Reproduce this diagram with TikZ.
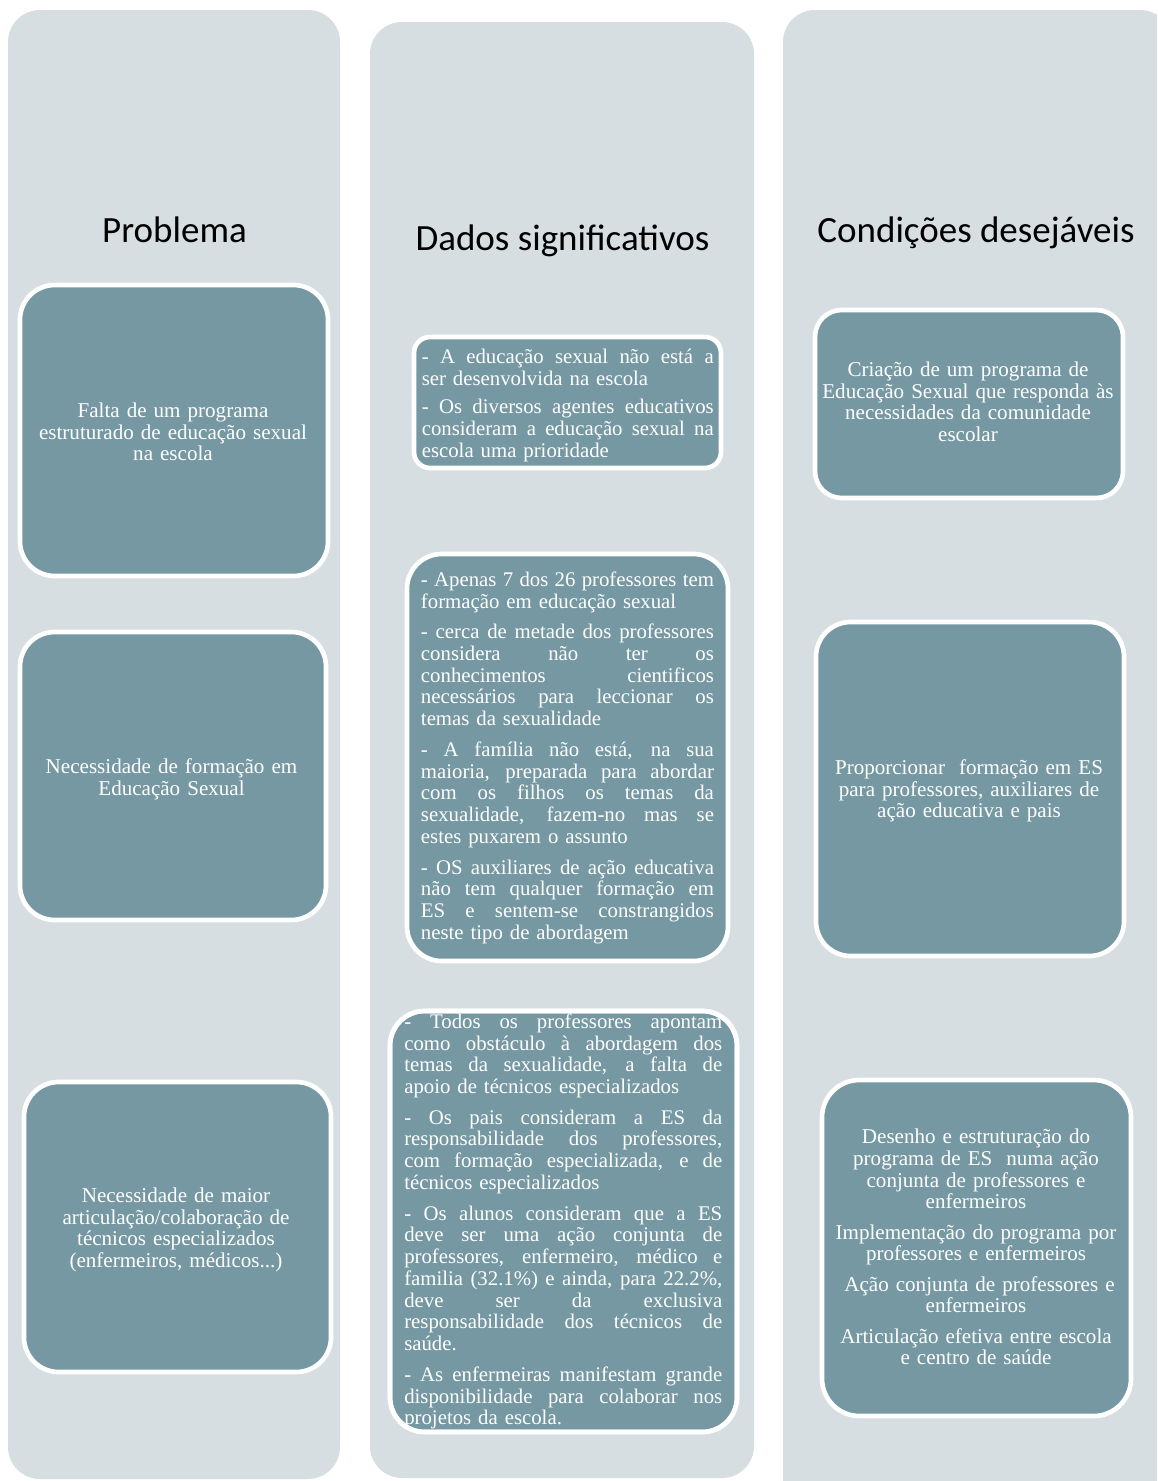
\documentclass[tikz,border=0pt]{standalone}
\usepackage{fontspec}
\setmainfont{Liberation Serif}
\newfontfamily\headfont{Carlito}
\usetikzlibrary{fit}
\definecolor{colbg}{HTML}{D6DEE1}
\definecolor{cardfill}{HTML}{7598A3}
% one line of text: justified, ragged (last line of a paragraph) or centred
\newcommand{\justln}[1]{\hbox to\hsize{\spaceskip=0.25em plus 1fil minus 0.1em\strut#1}}
\newcommand{\lastln}[1]{\hbox to\hsize{\strut#1\hfill}}
\newcommand{\centln}[1]{\hbox to\hsize{\hfill\strut#1\hfill}}
\newcommand{\pgap}[1][6.75pt]{\vskip#1}
\begin{document}
\begin{tikzpicture}[x=0.75pt,y=-0.75pt,
  column/.style={fill=colbg, draw=none, rounded corners=24pt},
  card/.style={rectangle, inner sep=0pt, outer sep=0pt, fill=cardfill, draw=white, line width=3.5pt},
  rim/.style={draw=white, line width=3.5pt},
  head/.style={font=\headfont\fontsize{27.75}{33}\selectfont, text=black, inner sep=0pt, anchor=base},
  cbody/.style={font=\fontsize{15.8}{16.3}\selectfont, text=white, inner sep=0pt, text width=255pt, anchor=north},
  jbody/.style={font=\fontsize{15.6}{16.3}\selectfont, text=white, inner sep=0pt, anchor=north west},
]
\useasboundingbox (0,0) rectangle (1157,1481);
\fill[white] (0,0) rectangle (1157,1481);
\begin{scope}
\clip (0,0) rectangle (1157,1481);

% the three columns
\path[column] (8,10) rectangle (340,1479);
\path[column] (370,22) rectangle (754,1478);
\path[column] (783,10) rectangle (1172,1510);

% column headings
\node[head] (hprob) at (174.5,242) {Problema};
\node[head] (hdados) at (562.5,250) {Dados significativos};
\node[head] (hcond) at (976,242) {Condições desejáveis};

% ---- Problema
\node[card, rounded corners=26pt, fit={(20,285) (328,576)}] (p1) {};
\node[card, rounded corners=26pt, fit={(20,632) (326,920)}] (p2) {};
\node[card, rounded corners=26pt, fit={(24,1082) (331,1372)}] (p3) {};

\node[cbody] (p1t) at (173,401.8) {%
  \centln{Falta de um programa}
  \centln{estruturado de educação sexual}
  \centln{na escola}};
\node[cbody] (p2t) at (171.5,757.8) {%
  \centln{Necessidade de formação em}
  \centln{Educação Sexual}};
\node[cbody] (p3t) at (176,1186.8) {%
  \centln{Necessidade de maior}
  \centln{articulação/colaboração de}
  \centln{técnicos especializados}
  \centln{(enfermeiros, médicos...)}};

% ---- Dados significativos
\node[card, rounded corners=12pt, fit={(414,337) (721,468)}] (d1) {};
\node[card, rounded corners=26pt, fit={(407,554) (728,961)}] (d2) {};
\node[card, rounded corners=26pt, fit={(390,1011) (737,1432)}] (d3) {};

\node[jbody, text width=219pt] (d1t) at (421.5,348) {%
  \justln{- A educação sexual não está a}
  \lastln{ser desenvolvida na escola}
  \pgap[5pt]
  \justln{- Os diversos agentes educativos}
  \justln{consideram a educação sexual na}
  \lastln{escola uma prioridade}};
\node[jbody, text width=219.75pt] (d2t) at (420.7,570.8) {%
  \justln{- Apenas 7 dos 26 professores tem}
  \lastln{formação em educação sexual}
  \pgap
  \justln{- cerca de metade dos professores}
  \justln{considera não ter os}
  \justln{conhecimentos cientificos}
  \justln{necessários para leccionar os}
  \lastln{temas da sexualidade}
  \pgap
  \justln{- A família não está, na sua}
  \justln{maioria, preparada para abordar}
  \justln{com os filhos os temas da}
  \justln{sexualidade, fazem-no mas se}
  \lastln{estes puxarem o assunto}
  \pgap
  \justln{- OS auxiliares de ação educativa}
  \justln{não tem qualquer formação em}
  \justln{ES e sentem-se constrangidos}
  \lastln{neste tipo de abordagem}};
\node[jbody, text width=238.5pt] (d3t) at (404,1012.8) {%
  \justln{- Todos os professores apontam}
  \justln{como obstáculo à abordagem dos}
  \justln{temas da sexualidade, a falta de}
  \lastln{apoio de técnicos especializados}
  \pgap
  \justln{- Os pais consideram a ES da}
  \justln{responsabilidade dos professores,}
  \justln{com formação especializada, e de}
  \lastln{técnicos especializados}
  \pgap
  \justln{- Os alunos consideram que a ES}
  \justln{deve ser uma ação conjunta de}
  \justln{professores, enfermeiro, médico e}
  \justln{familia (32.1\%) e ainda, para 22.2\%,}
  \justln{deve ser da exclusiva}
  \justln{responsabilidade dos técnicos de}
  \lastln{saúde.}
  \pgap
  \justln{- As enfermeiras manifestam grande}
  \justln{disponibilidade para colaborar nos}
  \lastln{projetos da escola.}};
% the rim of this card lies over the overflowing text
\path[rim, rounded corners=26pt] (d3.north west) rectangle (d3.south east);

% ---- Condições desejáveis
\node[card, rounded corners=20pt, fit={(815,310) (1123,498)}] (c1) {};
\node[card, rounded corners=26pt, fit={(816,622) (1124,956)}] (c2) {};
\node[card, rounded corners=28pt, fit={(822,1080) (1131,1416)}] (c3) {};

\node[cbody] (c1t) at (968,360.8) {%
  \centln{Criação de um programa de}
  \centln{Educação Sexual que responda às}
  \centln{necessidades da comunidade}
  \centln{escolar}};
\node[cbody] (c2t) at (969,758.8) {%
  \centln{Proporcionar\ \ formação em ES}
  \centln{para professores, auxiliares de}
  \centln{ação educativa e pais}};
\node[cbody] (c3t) at (976,1128.1) {%
  \centln{Desenho e estruturação do}
  \centln{programa de ES\ \ numa ação}
  \centln{conjunta de professores e}
  \centln{enfermeiros}
  \pgap[6.4pt]
  \centln{Implementação do programa por}
  \centln{professores e enfermeiros}
  \pgap[6.4pt]
  \centln{\ Ação conjunta de professores e}
  \centln{enfermeiros}
  \pgap[6.4pt]
  \centln{Articulação efetiva entre escola}
  \centln{e centro de saúde}};
\end{scope}
\end{tikzpicture}
\end{document}
